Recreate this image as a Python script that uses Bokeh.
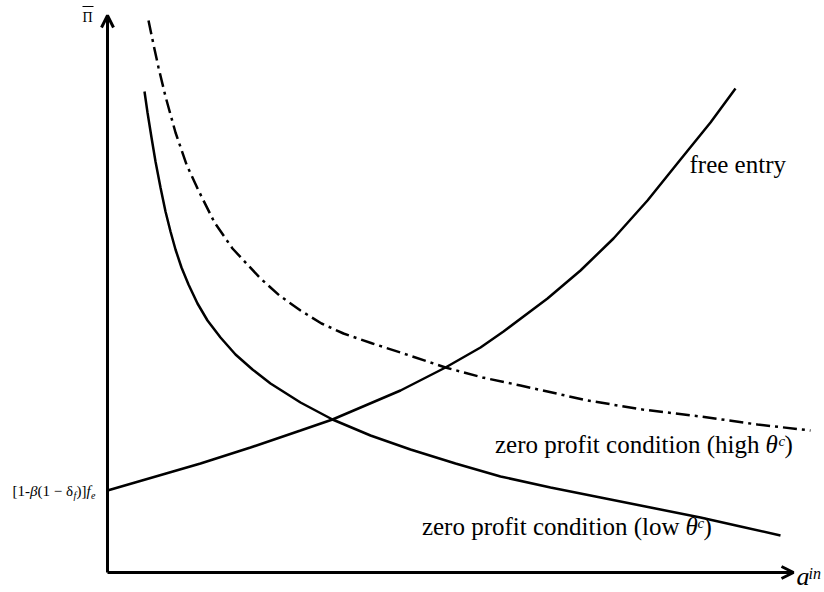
from bokeh.plotting import figure
from bokeh.models import Range1d, Arrow, OpenHead, Label
from bokeh.embed import file_html
from bokeh.resources import INLINE

# ---- data (schematic units: origin at axes intersection) ----
free_entry_x = [0, 93, 143, 193, 225, 293, 338, 373, 396, 440, 473, 506, 540, 573, 603, 628]
free_entry_y = [82, 109, 125, 142, 153, 182, 205, 225, 241, 274, 302, 334, 372, 413, 450, 484]

low_x = [37, 40, 44, 48, 53, 58, 63, 68, 74, 81, 90, 100, 113, 128, 145, 163, 193, 225,
         263, 303, 348, 393, 443, 493, 543, 593, 633, 673]
low_y = [481, 460, 435, 411, 385, 361, 341, 323, 305, 288, 269, 252, 235, 218, 203, 189, 170, 153,
         137, 123, 109, 96, 85, 75, 65, 55, 46, 37]

high_x = [41, 46, 51, 58, 68, 79, 91, 107, 125, 153, 172, 193, 214, 236, 265, 293, 338, 375,
          413, 480, 535, 593, 650, 703]
high_y = [552, 528, 505, 476, 440, 408, 382, 350, 324, 294, 277, 262, 249, 239, 229, 220, 205, 195,
          187, 172, 163, 156, 148, 142]

fe_intercept = free_entry_y[0]
x_axis_end = 686
y_axis_end = 557

FONT = "Liberation Serif"

p = figure(width=824, height=592, x_range=Range1d(-107, 717), y_range=Range1d(-20, 572),
           output_backend="svg", toolbar_location=None, min_border=0,
           x_axis_type=None, y_axis_type=None)
p.grid.visible = False
p.outline_line_color = None
p.background_fill_color = "white"
p.border_fill_color = "white"

# axes as arrows
p.add_layout(Arrow(x_start=0, y_start=0, x_end=x_axis_end, y_end=0, line_width=3, line_color="black",
                   end=OpenHead(size=12, line_width=3, line_color="black")))
p.add_layout(Arrow(x_start=0, y_start=0, x_end=0, y_end=y_axis_end, line_width=3, line_color="black",
                   end=OpenHead(size=12, line_width=3, line_color="black")))

# curves
p.line(free_entry_x, free_entry_y, line_width=2.5, line_color="black")
p.line(low_x, low_y, line_width=2.5, line_color="black")
p.line(high_x, high_y, line_width=2.5, line_color="black", line_dash="14 5 3 5")


def lab(x, y, text, size, style="normal", align="left"):
    # baseline correction for the svg text rendering
    p.add_layout(Label(x=x, y=y + 0.32 * size, text=text, text_font=FONT, text_font_size=f"{size}px",
                       text_font_style=style, text_align=align, text_baseline="alphabetic",
                       text_color="black"))


# y-axis label Pi-bar
lab(-25, 551, "Π", 14)
p.segment(x0=[-25], y0=[566], x1=[-14], y1=[566], line_width=1.2, line_color="black")

# x-axis label a^in
lab(689, -12, "a", 26, "italic")
lab(701, -6, "in", 16, "italic")

# intercept label [1-β(1 − δf)]fe
by = fe_intercept - 5
lab(-95, by, "[1-", 15)
lab(-77.5, by, "β", 15, "italic")
lab(-70, by, "(1 − δ", 15)
lab(-34, by - 3, "f", 10, "italic")
lab(-31, by, ")]", 15)
lab(-21, by, "f", 15, "italic")
lab(-16.5, by - 3, "e", 10, "italic")

# curve labels
lab(582, 400, "free entry", 25)

lab(652, 120, "zero profit condition (high", 25, align="right")
lab(658, 120, "θ", 25, "italic")
lab(671, 127, "c", 15, "italic")
lab(677, 120, ")", 25)

lab(572, 38, "zero profit condition (low", 25, align="right")
lab(578, 38, "θ", 25, "italic")
lab(590, 45, "c", 15, "italic")
lab(596, 38, ")", 25)

open("out.html", "w").write(file_html(p, INLINE))
